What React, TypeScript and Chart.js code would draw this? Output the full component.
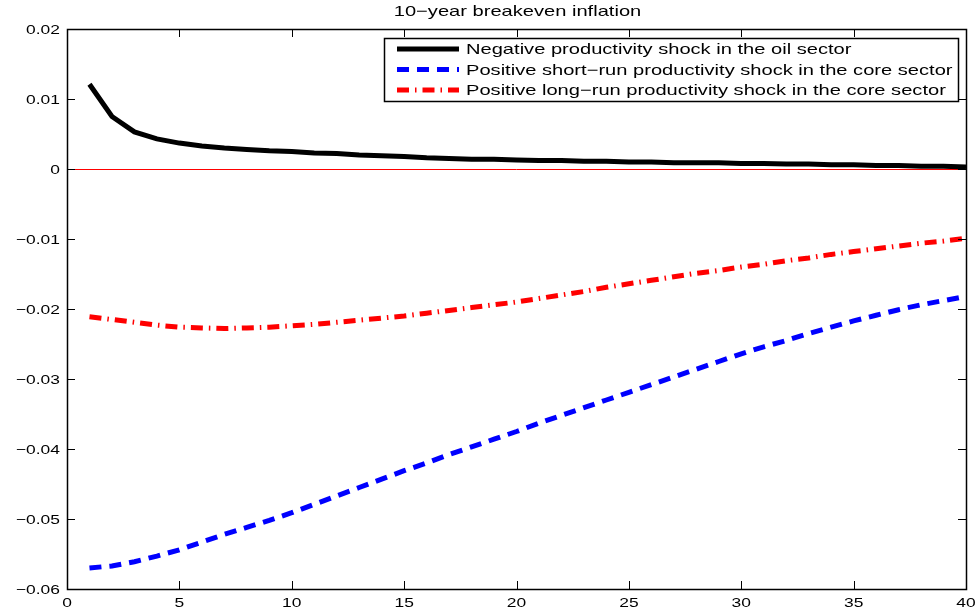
import React, { useEffect, useRef } from "react";
import { Chart, registerables } from "chart.js";

Chart.register(...registerables);

const periods: number[] = Array.from({ length: 40 }, (_, i) => i + 1);

const oilShock: number[] = [
  0.0121, 0.0075, 0.0053, 0.0043, 0.0037, 0.0033, 0.003, 0.0028, 0.0026, 0.0025,
  0.0023, 0.0022, 0.002, 0.0019, 0.0018, 0.0016, 0.0015, 0.0014, 0.0014, 0.0013,
  0.0012, 0.0012, 0.0011, 0.0011, 0.001, 0.001, 0.0009, 0.0009, 0.0009, 0.0008,
  0.0008, 0.0007, 0.0007, 0.0006, 0.0006, 0.0005, 0.0005, 0.0004, 0.0004, 0.0003,
];

const coreShortRun: number[] = [
  -0.057, -0.0567, -0.0561, -0.0553, -0.0544, -0.0533, -0.0522, -0.0512, -0.0502, -0.0491,
  -0.0479, -0.0467, -0.0455, -0.0443, -0.0431, -0.042, -0.0408, -0.0397, -0.0386, -0.0375,
  -0.0363, -0.0352, -0.0341, -0.033, -0.0319, -0.0308, -0.0297, -0.0286, -0.0275, -0.0264,
  -0.0254, -0.0245, -0.0235, -0.0226, -0.0217, -0.0209, -0.0201, -0.0194, -0.0188, -0.0182,
];

const coreLongRun: number[] = [
  -0.0211, -0.0215, -0.0219, -0.0223, -0.0226, -0.0227, -0.0228, -0.0227, -0.0226, -0.0224,
  -0.0222, -0.0219, -0.0216, -0.0213, -0.021, -0.0206, -0.0202, -0.0198, -0.0194, -0.019,
  -0.0185, -0.018, -0.0175, -0.0169, -0.0164, -0.0159, -0.0154, -0.0149, -0.0145, -0.014,
  -0.0136, -0.0131, -0.0127, -0.0122, -0.0118, -0.0114, -0.011, -0.0106, -0.0103, -0.0099,
];

const seriesLabels: string[] = [
  "Negative productivity shock in the oil sector",
  "Positive short\u2212run productivity shock in the core sector",
  "Positive long\u2212run productivity shock in the core sector",
];

const xTicks: number[] = [0, 5, 10, 15, 20, 25, 30, 35, 40];
const yTicks: number[] = [0.02, 0.01, 0, -0.01, -0.02, -0.03, -0.04, -0.05, -0.06];

const chartTitle = "10\u2212year breakeven inflation";

const FONT = '"Liberation Sans", Arial, Helvetica, sans-serif';
const STRETCH = 1.34;

const fmtY = (v: number) => (Math.abs(v) < 1e-12 ? "0" : v.toFixed(2).replace("-", "\u2212"));

function drawText(
  ctx: CanvasRenderingContext2D,
  text: string,
  x: number,
  y: number,
  size: number,
  align: "left" | "center" | "right"
) {
  ctx.save();
  ctx.font = `${size}px ${FONT}`;
  ctx.fillStyle = "#000";
  ctx.textBaseline = "middle";
  ctx.textAlign = align;
  ctx.translate(x, y);
  ctx.scale(STRETCH, 1);
  ctx.fillText(text, 0, 0);
  ctx.restore();
}

const framePlugin = {
  id: "matlabFrame",
  beforeDatasetsDraw(chart: any) {
    const { ctx, chartArea } = chart;
    const y0 = chart.scales.y.getPixelForValue(0);
    ctx.save();
    ctx.strokeStyle = "#ff0000";
    ctx.lineWidth = 1;
    ctx.beginPath();
    ctx.moveTo(chartArea.left, Math.round(y0) + 0.5);
    ctx.lineTo(chartArea.right, Math.round(y0) + 0.5);
    ctx.stroke();
    ctx.restore();
  },
  afterDatasetsDraw(chart: any) {
    const { ctx, chartArea } = chart;
    const { left, right, top, bottom } = chartArea;
    const xs = chart.scales.x;
    const ys = chart.scales.y;
    const tl = 8;
    ctx.save();
    ctx.strokeStyle = "#000";
    ctx.lineWidth = 1;
    ctx.beginPath();
    for (const t of xs.ticks) {
      const px = Math.round(xs.getPixelForValue(t.value)) + 0.5;
      ctx.moveTo(px, bottom);
      ctx.lineTo(px, bottom - tl);
      ctx.moveTo(px, top);
      ctx.lineTo(px, top + tl);
    }
    for (const t of ys.ticks) {
      const py = Math.round(ys.getPixelForValue(t.value)) + 0.5;
      ctx.moveTo(left, py);
      ctx.lineTo(left + tl, py);
      ctx.moveTo(right, py);
      ctx.lineTo(right - tl, py);
    }
    ctx.stroke();
    ctx.lineWidth = 1.5;
    ctx.strokeRect(Math.round(left) + 0.5, Math.round(top) + 0.5, Math.round(right - left), Math.round(bottom - top));
    ctx.restore();

    // tick labels
    for (const t of xs.ticks) {
      drawText(ctx, String(t.value), xs.getPixelForValue(t.value), 603, 13, "center");
    }
    for (const t of ys.ticks) {
      drawText(ctx, fmtY(t.value), 60, ys.getPixelForValue(t.value) + 1, 13, "right");
    }

    // title
    drawText(ctx, chartTitle, (left + right) / 2 + 1, 12, 15, "center");

    // legend
    const bx = 384.5, by = 38.5, bw = 574, bh = 63;
    ctx.save();
    ctx.fillStyle = "#fff";
    ctx.fillRect(bx, by, bw, bh);
    ctx.strokeStyle = "#000";
    ctx.lineWidth = 1.5;
    ctx.strokeRect(bx, by, bw, bh);
    ctx.restore();
    const rows = [49, 69.5, 90];
    chart.data.datasets.forEach((ds: any, i: number) => {
      const ry = rows[i];
      ctx.save();
      ctx.strokeStyle = ds.borderColor;
      ctx.lineWidth = ds.borderWidth;
      ctx.setLineDash(ds.borderDash || []);
      ctx.lineCap = "butt";
      ctx.beginPath();
      ctx.moveTo(397, ry);
      ctx.lineTo(459, ry);
      ctx.stroke();
      ctx.restore();
      drawText(ctx, ds.label, 466, ry + 1, 15, "left");
    });
  },
};

export default function App() {
  const canvasRef = useRef<HTMLCanvasElement | null>(null);

  useEffect(() => {
    const canvas = canvasRef.current;
    if (!canvas) return;
    const chart = new Chart(canvas, {
      type: "line",
      data: {
        labels: periods,
        datasets: [
          {
            label: seriesLabels[0],
            data: periods.map((p, i) => ({ x: p, y: oilShock[i] })),
            borderColor: "#000000",
            borderWidth: 5,
            pointRadius: 0,
            tension: 0,
            fill: false,
          },
          {
            label: seriesLabels[1],
            data: periods.map((p, i) => ({ x: p, y: coreShortRun[i] })),
            borderColor: "#0000ff",
            borderWidth: 5,
            borderDash: [12, 8],
            pointRadius: 0,
            tension: 0,
            fill: false,
          },
          {
            label: seriesLabels[2],
            data: periods.map((p, i) => ({ x: p, y: coreLongRun[i] })),
            borderColor: "#ff0000",
            borderWidth: 5,
            borderDash: [12, 6, 1.5, 6],
            pointRadius: 0,
            tension: 0,
            fill: false,
          },
        ],
      },
      options: {
        animation: false,
        responsive: false,
        maintainAspectRatio: false,
        layout: { padding: { left: 0, top: 29, right: 14, bottom: 0 } },
        plugins: {
          legend: { display: false },
          title: { display: false },
          tooltip: { enabled: false },
        },
        scales: {
          x: {
            type: "linear",
            min: 0,
            max: 40,
            grid: { display: false, drawTicks: false },
            border: { display: false },
            afterFit: (s: any) => {
              s.height = 26;
            },
            afterBuildTicks: (s: any) => {
              s.ticks = xTicks.map((v) => ({ value: v }));
            },
            ticks: { display: false, autoSkip: false },
          },
          y: {
            type: "linear",
            min: -0.06,
            max: 0.02,
            grid: { display: false, drawTicks: false },
            border: { display: false },
            afterFit: (s: any) => {
              s.width = 67;
            },
            afterBuildTicks: (s: any) => {
              s.ticks = yTicks.map((v) => ({ value: v }));
            },
            ticks: { display: false, autoSkip: false },
          },
        },
      },
      plugins: [framePlugin],
    } as any);
    return () => chart.destroy();
  }, []);

  return (
    <div style={{ position: "fixed", left: 0, top: 0, width: 980, height: 615, background: "#fff" }}>
      <canvas ref={canvasRef} width={980} height={615} style={{ display: "block", width: 980, height: 615 }} />
    </div>
  );
}
